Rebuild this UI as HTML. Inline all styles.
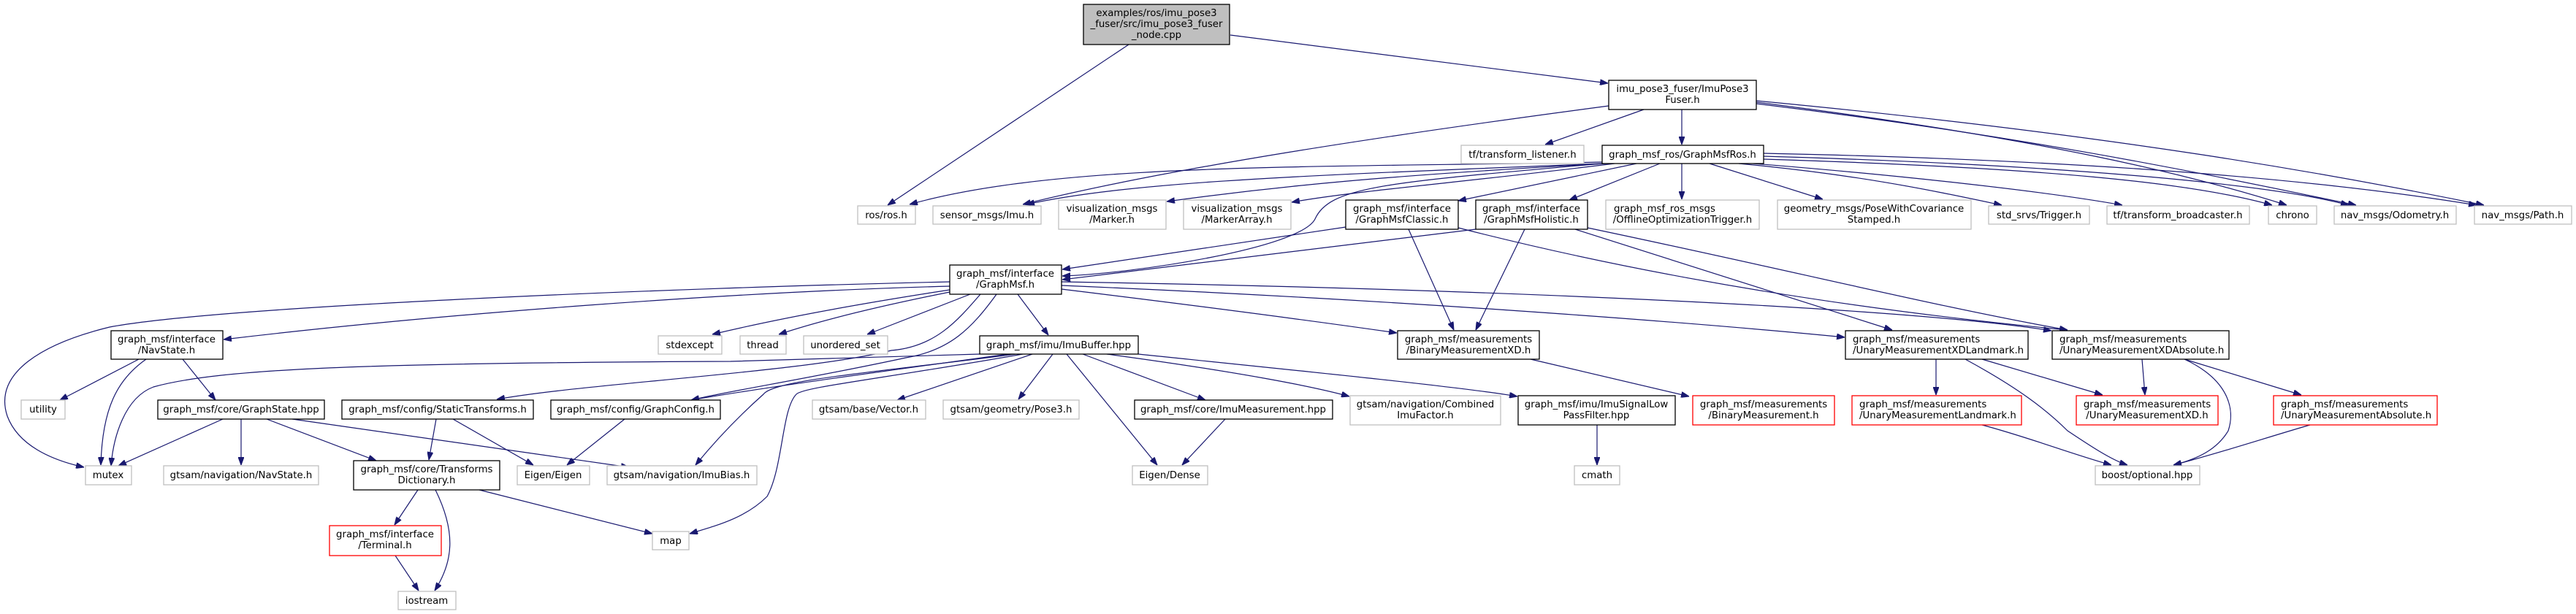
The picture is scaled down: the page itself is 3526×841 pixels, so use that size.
<!DOCTYPE html>
<html><head><meta charset="utf-8"><style>
html,body{margin:0;padding:0;background:#fff;}
svg{display:block;}
text{font-family:"DejaVu Sans","Liberation Sans",sans-serif;font-size:13.3px;fill:#000;}
.g{fill:#fff;stroke:#bfbfbf;stroke-width:1.3}
.b{fill:#fff;stroke:#000;stroke-width:1.3}
.r{fill:#fff;stroke:#ff0000;stroke-width:1.3}
.t{fill:#bfbfbf;stroke:#000;stroke-width:1.3}
.e path{fill:none;stroke:#191970;stroke-width:1.2;marker-end:url(#a)}
</style></head><body>
<svg width="3526" height="841" viewBox="0 0 3526 841" xmlns="http://www.w3.org/2000/svg">
<defs><marker id="a" markerUnits="userSpaceOnUse" markerWidth="11" markerHeight="8" refX="11" refY="4" orient="auto"><path d="M0,0 L11,4 L0,8 z" fill="#191970" stroke="#191970"/></marker></defs>
<g class="e">
<path d="M1545,61 L1215,281"/>
<path d="M1684,48 L2201,114"/>
<path d="M2202,145 C1900,185 1600,230 1400,280"/>
<path d="M2250,150 L2115,198"/>
<path d="M2302,150 L2302,198"/>
<path d="M2404,140 C2800,190 3000,240 3130,281"/>
<path d="M2404,142 C2800,190 3050,245 3225,281"/>
<path d="M2404,138 C2900,185 3200,240 3400,281"/>
<path d="M2193,222 C1800,230 1450,222 1245,280"/>
<path d="M2193,224 C1800,240 1550,248 1405,280"/>
<path d="M2200,224 C1900,240 1750,255 1597,276"/>
<path d="M2210,224 C2000,250 1850,262 1768,277"/>
<path d="M2193,224 C1900,250 1820,255 1800,300 C1780,340 1550,375 1454,378"/>
<path d="M2240,224 L1996,275"/>
<path d="M2272,224 L2148,274"/>
<path d="M2302,224 L2302,273"/>
<path d="M2340,224 L2495,273"/>
<path d="M2380,224 C2550,240 2650,262 2740,281"/>
<path d="M2400,224 C2600,240 2800,262 2905,281"/>
<path d="M2414,218 C2800,230 3000,250 3110,281"/>
<path d="M2414,214 C2800,225 3100,250 3215,281"/>
<path d="M2414,210 C2900,220 3200,250 3390,281"/>
<path d="M1842,311 L1454,369"/>
<path d="M2020,314 L1454,383"/>
<path d="M1928,314 L1990,452"/>
<path d="M2087,314 L2020,452"/>
<path d="M1996,312 C2300,390 2600,430 2830,452"/>
<path d="M2156,314 L2590,452"/>
<path d="M2173,312 C2450,370 2650,420 2830,452"/>
<path d="M1300,386 C900,395 300,420 150,448 C60,470 -10,510 10,570 C25,610 70,630 115,640"/>
<path d="M1300,392 C1000,400 600,430 306,465"/>
<path d="M1300,397 C1150,420 1050,440 975,458"/>
<path d="M1300,400 C1200,420 1120,440 1066,458"/>
<path d="M1328,403 L1187,458"/>
<path d="M1393,403 L1435,459"/>
<path d="M1342,403 C1310,440 1280,475 1220,480 C1100,510 800,525 680,547"/>
<path d="M1364,403 C1330,450 1300,480 1240,490 C1100,520 1000,535 946,548"/>
<path d="M1453,396 C1650,420 1800,440 1912,456"/>
<path d="M1453,391 C1900,410 2300,440 2525,462"/>
<path d="M1453,386 C2000,395 2600,420 2808,453"/>
<path d="M190,492 L82,548"/>
<path d="M200,492 C160,520 140,560 138,637"/>
<path d="M250,492 L295,548"/>
<path d="M305,574 L162,638"/>
<path d="M330,574 L330,637"/>
<path d="M365,574 L515,631"/>
<path d="M400,574 L861,640"/>
<path d="M597,574 L587,630"/>
<path d="M620,574 L730,637"/>
<path d="M855,574 L776,637"/>
<path d="M572,671 L540,719"/>
<path d="M596,671 C625,730 620,770 595,809"/>
<path d="M656,671 L893,731"/>
<path d="M541,761 L573,809"/>
<path d="M1341,485 L1000,495 C500,497 300,505 210,530 C170,545 155,600 152,638"/>
<path d="M1380,485 C1200,510 1050,530 946,548"/>
<path d="M1390,485 C1200,510 1060,520 1045,540 C1000,580 970,615 952,637"/>
<path d="M1400,485 C1200,520 1100,530 1090,540 C1070,560 1072,640 1050,680 C1020,710 980,720 944,731"/>
<path d="M1413,485 L1228,548"/>
<path d="M1441,485 L1394,547"/>
<path d="M1460,485 L1584,637"/>
<path d="M1482,485 L1650,548"/>
<path d="M1515,485 C1700,510 1800,530 1847,543"/>
<path d="M1558,485 C1800,510 2000,530 2077,543"/>
<path d="M1677,574 L1618,637"/>
<path d="M2186,582 L2186,637"/>
<path d="M2095,492 L2312,543"/>
<path d="M2650,492 L2650,541"/>
<path d="M2713,492 L2878,541"/>
<path d="M2690,492 C2760,530 2800,560 2830,590 C2860,610 2890,630 2912,637"/>
<path d="M2932,492 L2936,541"/>
<path d="M2990,492 C3050,520 3060,560 3050,590 C3035,615 3010,628 2975,637"/>
<path d="M2990,492 L3150,541"/>
<path d="M2713,582 C2780,600 2830,620 2890,637"/>
<path d="M3162,582 C3100,600 3040,620 2975,637"/>
</g>
<g text-anchor="middle">
<rect class="t" x="1483" y="6" width="200" height="55"/><text x="1583" y="22">examples/ros/imu_pose3</text><text x="1583" y="37">_fuser/src/imu_pose3_fuser</text><text x="1583" y="52">_node.cpp</text>
<rect class="b" x="2202" y="110" width="202" height="40"/><text x="2303" y="126">imu_pose3_fuser/ImuPose3</text><text x="2303" y="141">Fuser.h</text>
<rect class="g" x="2000" y="199" width="168" height="25"/><text x="2084" y="216">tf/transform_listener.h</text>
<rect class="b" x="2193" y="199" width="221" height="25"/><text x="2303" y="216">graph_msf_ros/GraphMsfRos.h</text>
<rect class="g" x="1174" y="282" width="79" height="25"/><text x="1213" y="299">ros/ros.h</text>
<rect class="g" x="1277" y="282" width="148" height="25"/><text x="1351" y="299">sensor_msgs/Imu.h</text>
<rect class="g" x="1449" y="274" width="147" height="40"/><text x="1522" y="290">visualization_msgs</text><text x="1522" y="305">/Marker.h</text>
<rect class="g" x="1620" y="274" width="147" height="40"/><text x="1693" y="290">visualization_msgs</text><text x="1693" y="305">/MarkerArray.h</text>
<rect class="b" x="1842" y="274" width="154" height="40"/><text x="1919" y="290">graph_msf/interface</text><text x="1919" y="305">/GraphMsfClassic.h</text>
<rect class="b" x="2020" y="274" width="153" height="40"/><text x="2096" y="290">graph_msf/interface</text><text x="2096" y="305">/GraphMsfHolistic.h</text>
<rect class="g" x="2198" y="274" width="210" height="40"/><text x="2209" y="290" text-anchor="start">graph_msf_ros_msgs</text><text x="2303" y="305">/OfflineOptimizationTrigger.h</text>
<rect class="g" x="2433" y="274" width="265" height="40"/><text x="2565" y="290">geometry_msgs/PoseWithCovariance</text><text x="2565" y="305">Stamped.h</text>
<rect class="g" x="2722" y="282" width="138" height="25"/><text x="2791" y="299">std_srvs/Trigger.h</text>
<rect class="g" x="2884" y="282" width="195" height="25"/><text x="2981" y="299">tf/transform_broadcaster.h</text>
<rect class="g" x="3105" y="282" width="66" height="25"/><text x="3138" y="299">chrono</text>
<rect class="g" x="3195" y="282" width="167" height="25"/><text x="3278" y="299">nav_msgs/Odometry.h</text>
<rect class="g" x="3387" y="282" width="133" height="25"/><text x="3453" y="299">nav_msgs/Path.h</text>
<rect class="b" x="1300" y="363" width="153" height="40"/><text x="1376" y="379">graph_msf/interface</text><text x="1376" y="394">/GraphMsf.h</text>
<rect class="b" x="152" y="453" width="153" height="39"/><text x="228" y="469">graph_msf/interface</text><text x="228" y="484">/NavState.h</text>
<rect class="b" x="1913" y="453" width="194" height="39"/><text x="2010" y="469">graph_msf/measurements</text><text x="2010" y="484">/BinaryMeasurementXD.h</text>
<rect class="b" x="2526" y="453" width="250" height="39"/><text x="2536" y="469" text-anchor="start">graph_msf/measurements</text><text x="2536" y="484" text-anchor="start">/UnaryMeasurementXDLandmark.h</text>
<rect class="b" x="2809" y="453" width="242" height="39"/><text x="2819" y="469" text-anchor="start">graph_msf/measurements</text><text x="2819" y="484" text-anchor="start">/UnaryMeasurementXDAbsolute.h</text>
<rect class="g" x="901" y="460" width="87" height="25"/><text x="944" y="477">stdexcept</text>
<rect class="g" x="1013" y="460" width="63" height="25"/><text x="1044" y="477">thread</text>
<rect class="g" x="1100" y="460" width="115" height="25"/><text x="1157" y="477">unordered_set</text>
<rect class="b" x="1341" y="460" width="217" height="25"/><text x="1449" y="477">graph_msf/imu/ImuBuffer.hpp</text>
<rect class="g" x="29" y="548" width="60" height="26"/><text x="59" y="565">utility</text>
<rect class="b" x="216" y="548" width="228" height="26"/><text x="330" y="565">graph_msf/core/GraphState.hpp</text>
<rect class="b" x="468" y="548" width="262" height="26"/><text x="599" y="565">graph_msf/config/StaticTransforms.h</text>
<rect class="b" x="754" y="548" width="232" height="26"/><text x="870" y="565">graph_msf/config/GraphConfig.h</text>
<rect class="g" x="1112" y="548" width="155" height="26"/><text x="1189" y="565">gtsam/base/Vector.h</text>
<rect class="g" x="1291" y="548" width="186" height="26"/><text x="1384" y="565">gtsam/geometry/Pose3.h</text>
<rect class="b" x="1553" y="548" width="271" height="26"/><text x="1688" y="565">graph_msf/core/ImuMeasurement.hpp</text>
<rect class="g" x="1848" y="542" width="206" height="40"/><text x="1951" y="558">gtsam/navigation/Combined</text><text x="1951" y="573">ImuFactor.h</text>
<rect class="b" x="2078" y="542" width="215" height="40"/><text x="2185" y="558">graph_msf/imu/ImuSignalLow</text><text x="2185" y="573">PassFilter.hpp</text>
<rect class="r" x="2317" y="542" width="194" height="40"/><text x="2414" y="558">graph_msf/measurements</text><text x="2414" y="573">/BinaryMeasurement.h</text>
<rect class="r" x="2535" y="542" width="232" height="40"/><text x="2545" y="558" text-anchor="start">graph_msf/measurements</text><text x="2545" y="573" text-anchor="start">/UnaryMeasurementLandmark.h</text>
<rect class="r" x="2842" y="542" width="194" height="40"/><text x="2939" y="558">graph_msf/measurements</text><text x="2939" y="573">/UnaryMeasurementXD.h</text>
<rect class="r" x="3112" y="542" width="224" height="40"/><text x="3122" y="558" text-anchor="start">graph_msf/measurements</text><text x="3122" y="573" text-anchor="start">/UnaryMeasurementAbsolute.h</text>
<rect class="g" x="117" y="638" width="63" height="26"/><text x="148" y="655">mutex</text>
<rect class="g" x="224" y="638" width="212" height="26"/><text x="330" y="655">gtsam/navigation/NavState.h</text>
<rect class="b" x="484" y="631" width="200" height="40"/><text x="584" y="647">graph_msf/core/Transforms</text><text x="584" y="662">Dictionary.h</text>
<rect class="g" x="708" y="638" width="99" height="26"/><text x="757" y="655">Eigen/Eigen</text>
<rect class="g" x="831" y="638" width="205" height="26"/><text x="933" y="655">gtsam/navigation/ImuBias.h</text>
<rect class="g" x="1550" y="638" width="103" height="26"/><text x="1601" y="655">Eigen/Dense</text>
<rect class="g" x="2155" y="638" width="62" height="26"/><text x="2186" y="655">cmath</text>
<rect class="g" x="2868" y="638" width="143" height="26"/><text x="2939" y="655">boost/optional.hpp</text>
<rect class="r" x="451" y="720" width="153" height="41"/><text x="527" y="736">graph_msf/interface</text><text x="527" y="751">/Terminal.h</text>
<rect class="g" x="893" y="728" width="50" height="25"/><text x="918" y="745">map</text>
<rect class="g" x="545" y="810" width="79" height="25"/><text x="584" y="827">iostream</text>
</g>
</svg>
</body></html>
